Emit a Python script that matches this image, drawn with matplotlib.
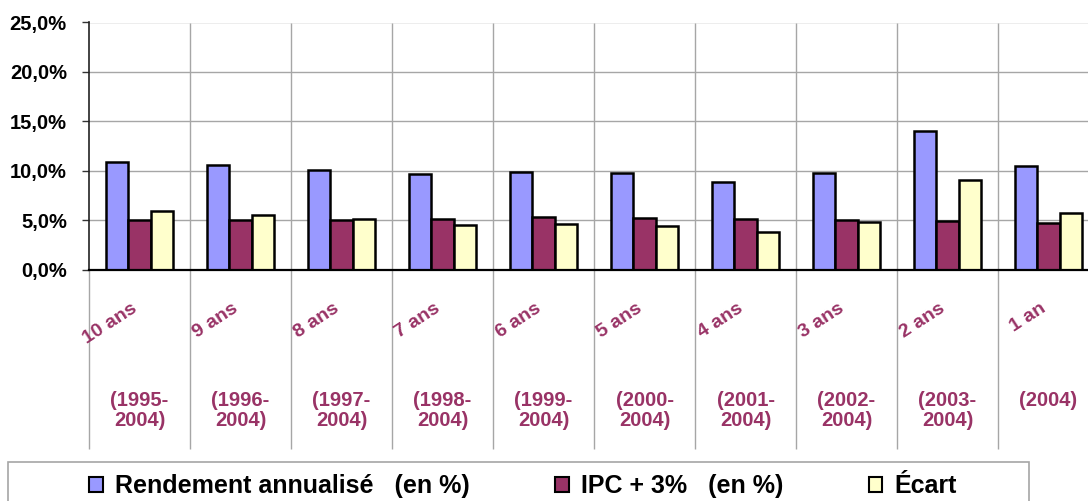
import matplotlib
matplotlib.use('Agg')
import matplotlib.pyplot as plt
import matplotlib.transforms as mtransforms
from matplotlib.patches import Rectangle, Patch
import numpy as np

plt.rcParams['font.family'] = ['Liberation Sans', 'DejaVu Sans']
plt.rcParams['font.weight'] = 'bold'

# Data (in %).
periods = ['10 ans', '9 ans', '8 ans', '7 ans', '6 ans', '5 ans', '4 ans', '3 ans', '2 ans', '1 an']
years = ['(1995-\n2004)', '(1996-\n2004)', '(1997-\n2004)', '(1998-\n2004)', '(1999-\n2004)',
         '(2000-\n2004)', '(2001-\n2004)', '(2002-\n2004)', '(2003-\n2004)', '(2004)']
rendement = [10.9, 10.6, 10.1, 9.7, 9.9, 9.8, 8.9, 9.8, 14.0, 10.5]
ipc = [5.0, 5.0, 5.0, 5.1, 5.3, 5.2, 5.1, 5.0, 4.9, 4.7]
ecart = [5.9, 5.5, 5.1, 4.5, 4.6, 4.4, 3.8, 4.8, 9.1, 5.7]
series_names = ['Rendement annualisé   (en %)', 'IPC + 3%   (en %)', 'Écart']
y_ticks = [0, 5, 10, 15, 20, 25]
y_labels = ['0,0%', '5,0%', '10,0%', '15,0%', '20,0%', '25,0%']

colors = ['#9999FF', '#993366', '#FFFFCC']
label_color = '#993366'
grid_color = '#A6A6A6'

W, H = 1088, 501
fig = plt.figure(figsize=(W / 100, H / 100), dpi=100)
# plot area runs past the right edge, as in the original
ax = fig.add_axes([89 / W, 1 - 269.5 / H, 1010 / W, 247 / H])

x = np.arange(len(periods))
bw = 0.22
for k, vals in enumerate([rendement, ipc, ecart]):
    ax.bar(x + (k - 1) * bw, vals, bw, color=colors[k], edgecolor='black',
           linewidth=1.8, zorder=3)

ax.set_xlim(-0.5, len(periods) - 0.5)
ax.set_ylim(0, 25)
ax.set_yticks(y_ticks)
ax.set_yticklabels(y_labels, fontsize=14.5, fontweight='bold')
ax.tick_params(axis='y', length=5, width=1, pad=11, color='#333333')
ax.set_xticks([])

for yv in y_ticks[1:]:
    ax.axhline(yv, color=grid_color, lw=1, zorder=1)

# category separators, running down through the label area
trans = mtransforms.blended_transform_factory(ax.transData, ax.transAxes)
bounds = np.arange(len(periods) + 1) - 0.5
ax.vlines(bounds[1:], -(449 - 269.5) / 247, 1, transform=trans, color=grid_color,
          lw=1, clip_on=False, zorder=1)
ax.vlines(bounds[:1], -(449 - 269.5) / 247, 0, transform=trans, color=grid_color,
          lw=1, clip_on=False, zorder=1)

for s in ['top', 'right']:
    ax.spines[s].set_visible(False)
ax.spines['left'].set_color('#222222')
ax.spines['left'].set_linewidth(1.2)
ax.spines['bottom'].set_color('black')
ax.spines['bottom'].set_linewidth(1.6)
ax.spines['bottom'].set_zorder(4)

for i in range(len(periods)):
    ax.text(i - 0.02, -(311 - 269.5) / 247, periods[i], transform=trans, rotation=33,
            rotation_mode='anchor', ha='right', va='baseline', fontsize=14,
            fontweight='bold', color=label_color)
    ax.text(i, -(391 - 269.5) / 247, years[i], transform=trans, ha='center', va='top',
            fontsize=14.5, fontweight='bold', color=label_color, linespacing=1.1)

# legend box
fig.patches.append(Rectangle((8 / W, -0.1), (1029 - 8) / W, 0.1 + 1 - 461.5 / H,
                             transform=fig.transFigure, fill=False,
                             edgecolor='#A6A6A6', lw=1.2))
handles = [Patch(facecolor=c, edgecolor='black', linewidth=1.5) for c in colors]
fig.legend(handles, series_names, loc='center', bbox_to_anchor=(523 / W, 1 - 486 / H),
           ncol=3, frameon=False, prop={'size': 18, 'weight': 'bold'},
           handlelength=0.55, handleheight=0.55, handletextpad=0.5, columnspacing=3.4,
           borderpad=0)

fig.savefig('out.png', dpi=100)
